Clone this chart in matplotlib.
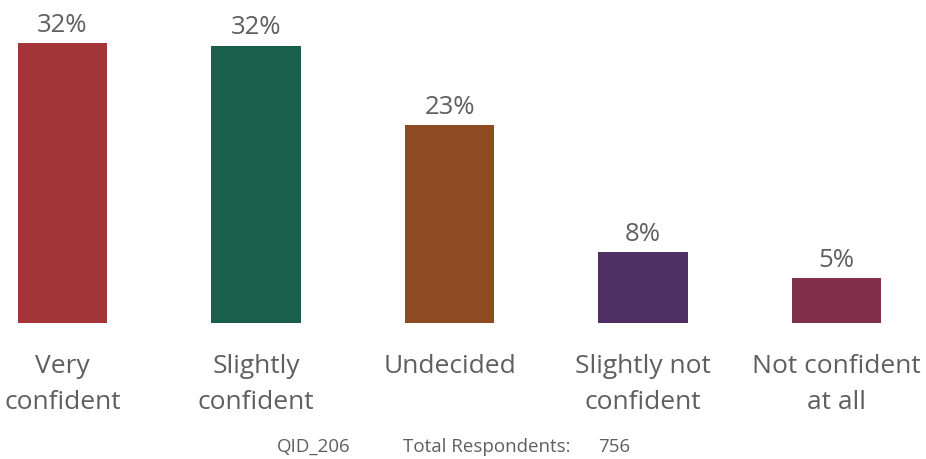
import matplotlib
matplotlib.use("Agg")
import matplotlib.pyplot as plt

# --- data ---
categories = ["Very\nconfident", "Slightly\nconfident", "Undecided",
              "Slightly not\nconfident", "Not confident\nat all"]
values = [32.0, 31.7, 22.6, 8.1, 5.1]
labels = ["32%", "32%", "23%", "8%", "5%"]
colors = ["#A33538", "#1A5E4C", "#8E4A20", "#4F3064", "#80304B"]
qid = "QID_206"
respondents = 756

GREY = "#5f5f5f"
plt.rcParams["font.family"] = ["Open Sans", "DejaVu Sans"]

fig = plt.figure(figsize=(9.26, 4.59), dpi=100)
ax = fig.add_axes([0, 136 / 459, 1, 323 / 459])

x = list(range(len(values)))
ax.bar(x, values, width=0.46, color=colors)
for xi, v, lab in zip(x, values, labels):
    ax.text(xi, v + 0.6, lab, ha="center", va="bottom", fontsize=18.5, color=GREY)

ax.set_xlim(-62.5 / 193.5, (926 - 62.5) / 193.5)
ax.set_ylim(0, 323 / 8.75)
ax.set_xticks(x)
ax.set_xticklabels(categories, fontsize=19, color=GREY, linespacing=1.6)
ax.tick_params(axis="x", length=0, pad=22)
ax.set_yticks([])
for s in ax.spines.values():
    s.set_visible(False)

fy = 1 - 447 / 459
fig.text(314 / 926, fy, qid, ha="center", va="center", fontsize=13.5, color=GREY)
fig.text(403 / 926, fy, "Total Respondents:", ha="left", va="center",
         fontsize=13.5, color=GREY)
fig.text(598 / 926, fy, str(respondents), ha="left", va="center",
         fontsize=13.5, color=GREY)

fig.savefig("out.png", dpi=100)
